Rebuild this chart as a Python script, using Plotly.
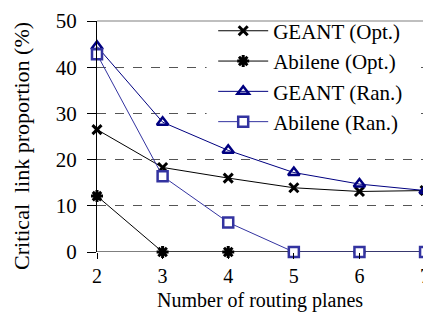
import plotly.graph_objects as go

planes = [2, 3, 4, 5, 6, 7]
geant_opt = [26.5, 18.3, 16.0, 13.9, 13.1, 13.3]
abilene_opt = [12.1, 0, 0, 0, 0, 0]
geant_ran = [44.5, 28.1, 22.0, 17.2, 14.7, 13.3]
abilene_ran = [42.8, 16.4, 6.4, 0, 0, 0]

y_ticks = [0, 10, 20, 30, 40, 50]

navy = "#000080"
blue = "#3333A0"
font = "Liberation Serif, DejaVu Serif, Times New Roman, serif"

fig = go.Figure()
fig.add_trace(go.Scatter(x=planes, y=geant_opt, name="GEANT (Opt.)", mode="lines+markers",
                         line=dict(color="black", width=1), legendgroup="a",
                         marker=dict(symbol="x-thin-open", size=9, line=dict(color="black", width=3))))
fig.add_trace(go.Scatter(x=planes, y=abilene_opt, name="Abilene (Opt.)", mode="lines+markers",
                         line=dict(color="black", width=1), legendgroup="b",
                         marker=dict(symbol="asterisk-open", size=10, line=dict(color="black", width=3))))
fig.add_trace(go.Scatter(x=planes, y=geant_ran, name="GEANT (Ran.)", mode="lines+markers",
                         line=dict(color=navy, width=1), legendgroup="c",
                         marker=dict(symbol="triangle-up-open", size=10, color=navy, line=dict(color=navy, width=2.5))))
fig.add_trace(go.Scatter(x=planes, y=abilene_ran, name="Abilene (Ran.)", mode="lines+markers",
                         line=dict(color=blue, width=1), legendgroup="d",
                         marker=dict(symbol="square", size=10, color="white", line=dict(color=blue, width=2.5))))

fig.update_traces(cliponaxis=False)

# page body has an 8px margin; keep figure inside the 431x320 window without scrollbars
fig.update_layout(
    width=423, height=304,
    margin=dict(l=89, r=1, t=9, b=60),
    plot_bgcolor="white", paper_bgcolor="white",
    font=dict(family=font, size=21, color="black"),
    showlegend=True,
    legend=dict(x=0.35, y=1.045, xanchor="left", yanchor="top", bgcolor="rgba(255,255,255,0)",
                font=dict(family=font, size=21), tracegroupgap=0, itemwidth=50),
    xaxis=dict(range=[2, 7.06], tickvals=planes, showgrid=False, zeroline=False,
               showline=False, ticks="outside", ticklen=6, tickcolor="black",
               ticklabeloverflow="allow", ticklabelstandoff=0,
               tickfont=dict(family=font, size=20)),
    yaxis=dict(range=[0, 50], tickvals=y_ticks, showgrid=True, gridcolor="#555555",
               griddash="dash", gridwidth=1, zeroline=False, showline=True, linecolor="black",
               linewidth=1, ticks="outside", ticklen=9, tickcolor="black",
               ticklabeloverflow="allow", ticklabelstandoff=6,
               tickfont=dict(family=font, size=21)),
    annotations=[
        dict(text="Number of routing planes", xref="paper", yref="paper", x=0.4895, y=-0.2085,
             xanchor="center", yanchor="middle", showarrow=False, font=dict(family=font, size=20)),
        dict(text="Critical\u00a0 link proportion (%)", xref="paper", yref="paper", x=-0.2252, y=0.46,
             xanchor="center", yanchor="middle", textangle=-90, showarrow=False,
             font=dict(family=font, size=22)),
    ],
    shapes=[
        dict(type="rect", xref="x", yref="y", x0=3.67, x1=6.88, y0=24, y1=49.7,
             fillcolor="white", line=dict(width=0), layer="between"),
        dict(type="line", xref="paper", yref="y", x0=0, x1=1, y0=0, y1=0, line=dict(color="black", width=1.2), layer="between"),
        dict(type="line", xref="paper", yref="paper", x0=0, x1=1, y0=1, y1=1, line=dict(color="#aaaaaa", width=1.5)),
        dict(type="line", xref="paper", yref="paper", x0=1, x1=1, y0=0, y1=1, line=dict(color="#999999", width=1)),
    ],
)

fig.write_html("out.html")
